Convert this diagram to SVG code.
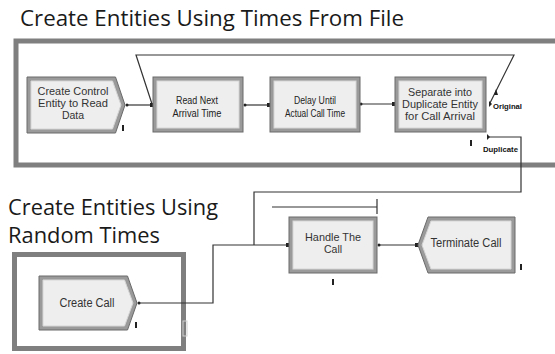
<svg xmlns="http://www.w3.org/2000/svg" width="555" height="354" viewBox="0 0 555 354">
<style>
.title{font-family:"Open Sans","DejaVu Sans",sans-serif;font-size:21px;fill:#1a1a1a}
.frame{fill:none;stroke:#7f7f7f;stroke-width:5}
.band{fill:#eeeeee;stroke:#9a9a9a;stroke-width:4}
.outer{fill:none;stroke:#6a6a6a;stroke-width:1}
.inner{fill:none;stroke:#d6d6d6;stroke-width:1}
.lbl{font-family:"Liberation Sans",Arial,sans-serif;font-size:12px;fill:#333;text-anchor:middle}
.ml{font-family:"Liberation Sans",Arial,sans-serif;font-size:10.5px;fill:#333;text-anchor:middle}
.nar{font-family:"Liberation Sans",Arial,sans-serif;font-size:10px;fill:#222;text-anchor:middle}
.tiny{font-family:"Liberation Sans",Arial,sans-serif;font-size:7px;font-weight:bold;fill:#111}
.wire{fill:none;stroke:#333;stroke-width:1.2}
.pin{fill:#222}
</style>

<text class="title" x="20" y="26" textLength="384" lengthAdjust="spacingAndGlyphs">Create Entities Using Times From File</text>
<text class="title" x="8" y="215" textLength="210" lengthAdjust="spacingAndGlyphs">Create Entities Using</text>
<text class="title" x="8" y="243" textLength="152" lengthAdjust="spacingAndGlyphs">Random Times</text>

<rect class="frame" x="16" y="41" width="560" height="124"/>
<rect class="frame" x="14.5" y="254.5" width="169" height="94"/>
<rect x="183" y="321" width="4" height="15" fill="none" stroke="#cfcfcf" stroke-width="1"/>

<g id="connectors">
  <path class="wire" d="M127,105 H153"/>
  <path class="wire" d="M245,105 H270"/>
  <path class="wire" d="M362,104 H395"/>
  <path class="wire" d="M490,103 L514,55 H136 L152,104"/>
  <path class="wire" d="M488,137 H521 V192 H254 V245"/>
  <path class="wire" d="M139,303 H213 V245 H289"/>
  <path class="wire" d="M379,245 H418"/>
  <path class="wire" d="M272,207 H377 M377,199 V214"/>
  <polygon class="pin" points="496,89 494,95 498,95"/>
  <polygon class="pin" points="489,101 489,107 492,104"/>
  <polygon class="pin" points="487,134 487,140 490,137"/>
  <circle class="pin" cx="127" cy="105" r="1.5"/>
  <rect class="pin" x="150" y="103" width="3" height="4"/>
  <circle class="pin" cx="245" cy="105" r="1.5"/>
  <rect class="pin" x="267" y="103" width="3" height="4"/>
  <circle class="pin" cx="361" cy="104" r="1.5"/>
  <rect class="pin" x="392" y="102" width="3" height="4"/>
  <circle class="pin" cx="139" cy="303" r="1.5"/>
  <rect class="pin" x="286" y="243" width="3" height="4"/>
  <circle class="pin" cx="379" cy="245" r="1.5"/>
  <rect class="pin" x="415" y="243" width="3" height="4"/>
</g>

<g id="create-control">
  <polygon class="band" points="29,79 114,79 123,105 114,131 29,131"/>
  <polygon class="outer" points="27,77 115.5,77 125,105 115.5,133 27,133"/>
  <polygon class="inner" points="31,81 112.5,81 121,105 112.5,129 31,129"/>
  <text class="ml" x="73" y="95" textLength="71" lengthAdjust="spacingAndGlyphs">Create Control</text>
  <text class="ml" x="73" y="107" textLength="70" lengthAdjust="spacingAndGlyphs">Entity to Read</text>
  <text class="ml" x="73" y="119">Data</text>
  <rect class="pin" x="122" y="125" width="2" height="6"/>
</g>

<g id="read-next">
  <rect class="band" x="155" y="79" width="86" height="51"/>
  <rect class="outer" x="153" y="77" width="90" height="55"/>
  <rect class="inner" x="157" y="81" width="82" height="47"/>
  <text class="nar" x="197" y="104" textLength="42" lengthAdjust="spacingAndGlyphs">Read Next</text>
  <text class="nar" x="197" y="117" textLength="49" lengthAdjust="spacingAndGlyphs">Arrival Time</text>
</g>

<g id="delay-until">
  <rect class="band" x="272" y="79" width="86" height="51"/>
  <rect class="outer" x="270" y="77" width="90" height="55"/>
  <rect class="inner" x="274" y="81" width="82" height="47"/>
  <text class="nar" x="315" y="104" textLength="42" lengthAdjust="spacingAndGlyphs">Delay Until</text>
  <text class="nar" x="315" y="117" textLength="60" lengthAdjust="spacingAndGlyphs">Actual Call Time</text>
</g>

<g id="separate">
  <rect class="band" x="397" y="79" width="87" height="51"/>
  <rect class="outer" x="395" y="77" width="91" height="55"/>
  <rect class="inner" x="399" y="81" width="83" height="47"/>
  <text class="ml" x="440" y="96" textLength="64" lengthAdjust="spacingAndGlyphs">Separate into</text>
  <text class="ml" x="440" y="108" textLength="76" lengthAdjust="spacingAndGlyphs">Duplicate Entity</text>
  <text class="ml" x="440" y="120" textLength="70" lengthAdjust="spacingAndGlyphs">for Call Arrival</text>
  <text class="tiny" x="493" y="109" textLength="29" lengthAdjust="spacingAndGlyphs">Original</text>
  <text class="tiny" x="483" y="152" textLength="35" lengthAdjust="spacingAndGlyphs">Duplicate</text>
  <rect class="pin" x="470" y="140" width="2" height="6"/>
</g>

<g id="handle-call">
  <rect class="band" x="291" y="219" width="84" height="52"/>
  <rect class="outer" x="289" y="217" width="88" height="56"/>
  <rect class="inner" x="293" y="221" width="80" height="48"/>
  <text class="ml" x="333" y="241" textLength="56" lengthAdjust="spacingAndGlyphs">Handle The</text>
  <text class="ml" x="333" y="253">Call</text>
  <rect class="pin" x="332" y="279" width="2" height="6"/>
</g>

<g id="terminate-call">
  <polygon class="band" points="420,245 429.5,219 513,219 513,271 429.5,271"/>
  <polygon class="outer" points="418,245 428,217 515,217 515,273 428,273"/>
  <polygon class="inner" points="422,245 431,221 511,221 511,269 431,269"/>
  <text class="lbl" x="466" y="247" textLength="71" lengthAdjust="spacingAndGlyphs">Terminate Call</text>
  <rect class="pin" x="520" y="264" width="2" height="6"/>
</g>

<g id="create-call">
  <polygon class="band" points="41,278 126,278 135,303 126,328 41,328"/>
  <polygon class="outer" points="39,276 127.5,276 137,303 127.5,330 39,330"/>
  <polygon class="inner" points="43,280 124.5,280 133,303 124.5,326 43,326"/>
  <text class="lbl" x="87" y="307" textLength="55" lengthAdjust="spacingAndGlyphs">Create Call</text>
  <rect class="pin" x="135" y="322" width="2" height="6"/>
</g>
</svg>
